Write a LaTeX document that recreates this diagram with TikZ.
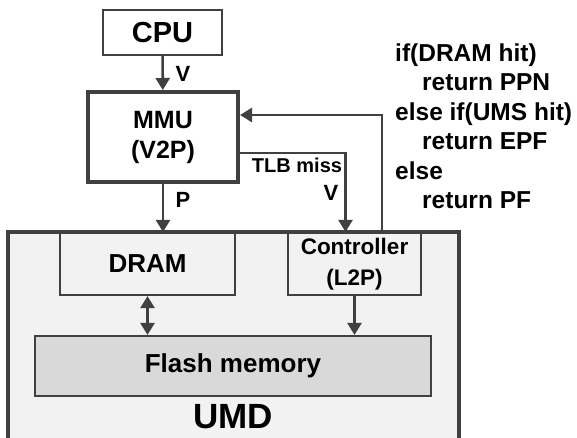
\documentclass[tikz,border=0pt]{standalone}
\usepackage{fontspec}
\setmainfont{Liberation Sans}
\usepackage{tikz}
\usetikzlibrary{arrows.meta}
\usetikzlibrary{positioning}

\definecolor{linegray}{HTML}{404040}
\definecolor{umdfill}{HTML}{F2F2F2}
\definecolor{flashfill}{HTML}{D9D9D9}

\tikzset{
    blk/.style = {draw = linegray, line width = 2.2pt, rectangle, inner sep = 0pt,
        align = center, font = \bfseries},
    arr/.style = {-{Triangle[length = 12pt, width = 14pt]}, draw = linegray,
        line width = 2.6pt},
    lbl/.style = {inner sep = 0pt, font = \bfseries\fontsize{22}{24}\selectfont}
}

\begin{document}
\begin{tikzpicture}[x = 1pt, y = -1pt]
    \useasboundingbox (0, 0) rectangle (577, 437);
    \clip (0, 0) rectangle (577, 437);

    %% UMD device
    \draw[draw = linegray, fill = umdfill, line width = 3.2pt] (8, 232) rectangle (459, 470);
    \node[lbl, font = \bfseries\fontsize{35}{38}\selectfont] (umd) at (233, 417) {UMD};

    %% boxes
    \node[blk, fill = white, minimum width = 119pt, minimum height = 45pt,
        font = \bfseries\fontsize{29}{31}\selectfont] (cpu) at (162.5, 32.5) {CPU};
    \node[blk, fill = white, line width = 4pt, minimum width = 150pt, minimum height = 90pt,
        font = \bfseries\fontsize{25}{30}\selectfont] (mmu) at (163, 137) {MMU\\(V2P)};
    \node[blk, fill = umdfill, minimum width = 175pt, minimum height = 62pt,
        font = \bfseries\fontsize{26}{28}\selectfont] (dram) at (147.5, 264) {DRAM};
    \node[blk, fill = umdfill, minimum width = 133pt, minimum height = 62pt,
        font = \bfseries\fontsize{22.5}{31}\selectfont] (ctrl) at (354.5, 264) {Controller\\(L2P)};
    \node[blk, fill = flashfill, minimum width = 396pt, minimum height = 60pt,
        font = \bfseries\fontsize{26}{28}\selectfont] (flash) at (233, 366) {Flash memory};

    %% connectors
    \draw[arr] (cpu) -- (mmu);
    \draw[arr] (mmu.south) -- (mmu.south |- dram.north);
    \draw[arr] ([xshift = 27.5pt]ctrl.north) |- ([yshift = 22pt]mmu.east);
    \draw[arr] ([yshift = -16pt]mmu.east) -| ([xshift = -9pt]ctrl.north);
    \draw[arr, {Triangle[length = 12pt, width = 14pt]}-{Triangle[length = 12pt, width = 14pt]}]
        (dram.south) -- (dram.south |- flash.north);
    \draw[arr] (ctrl.south) -- (ctrl.south |- flash.north);

    %% labels
    \node[lbl] (vcpu) at (183, 74) {V};
    \node[lbl] (pmmu) at (183, 200) {P};
    \node[lbl, font = \bfseries\fontsize{20}{22}\selectfont] (miss) at (297, 165) {TLB miss};
    \node[lbl] (vmiss) at (331, 193) {V};

    %% controller logic
    \node[lbl, anchor = north west, align = left, font = \bfseries\fontsize{24.5}{29.5}\selectfont]
        (code) at (395, 43.5) {if(DRAM hit)\\
        \hspace{27pt}return PPN\\
        else if(UMS hit)\\
        \hspace{27pt}return EPF\\
        else\\
        \hspace{27pt}return PF};
\end{tikzpicture}
\end{document}
